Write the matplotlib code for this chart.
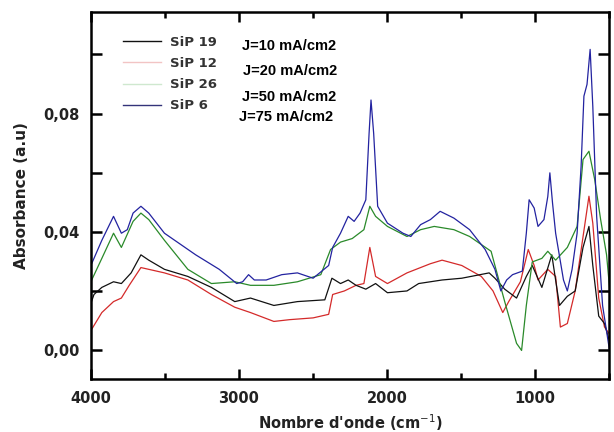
import numpy as np
import matplotlib.pyplot as plt
from matplotlib.lines import Line2D
from matplotlib.ticker import FixedLocator, FuncFormatter

#%% data (wavenumber cm-1, absorbance)
x_sip19 = [4000, 3979, 3926, 3847, 3794, 3728, 3662, 3609, 3503, 3345, 3186, 3028, 2922, 2764,
           2605, 2420, 2372, 2314, 2262, 2209, 2143, 2077, 1997, 1865, 1786, 1628, 1495, 1310,
           1271, 1205, 1125, 1059, 1019, 954, 887, 835, 782, 729, 676, 636, 610, 570, 531, 497]
y_sip19 = [0.0159, 0.0189, 0.0213, 0.0232, 0.0226, 0.0262, 0.0323, 0.0305, 0.0274, 0.0250, 0.0213,
           0.0165, 0.0177, 0.0152, 0.0165, 0.0171, 0.0244, 0.0226, 0.0238, 0.0220, 0.0207, 0.0226,
           0.0195, 0.0201, 0.0226, 0.0238, 0.0244, 0.0262, 0.0244, 0.0207, 0.0177, 0.0250, 0.0287,
           0.0213, 0.0323, 0.0152, 0.0183, 0.0201, 0.0348, 0.0419, 0.0287, 0.0116, 0.0091, 0.0030]

x_sip12 = [4000, 3926, 3847, 3794, 3741, 3662, 3609, 3503, 3345, 3186, 3028, 2922, 2764, 2658,
           2499, 2394, 2367, 2288, 2209, 2156, 2116, 2077, 1997, 1865, 1707, 1628, 1495, 1363,
           1284, 1218, 1178, 1099, 1046, 1006, 980, 914, 861, 829, 782, 729, 676, 636, 610,
           570, 531, 497]
y_sip12 = [0.0067, 0.0128, 0.0165, 0.0177, 0.0220, 0.0280, 0.0274, 0.0262, 0.0238, 0.0189, 0.0146,
           0.0128, 0.0098, 0.0104, 0.0110, 0.0122, 0.0189, 0.0201, 0.0220, 0.0226, 0.0348, 0.0250,
           0.0226, 0.0262, 0.0293, 0.0305, 0.0287, 0.0250, 0.0201, 0.0128, 0.0165, 0.0232, 0.0341,
           0.0287, 0.0238, 0.0274, 0.0250, 0.0079, 0.0091, 0.0201, 0.0384, 0.0521, 0.0430, 0.0177,
           0.0079, 0.0055]

x_sip26 = [4000, 3926, 3847, 3794, 3715, 3662, 3609, 3503, 3345, 3186, 3028, 2922, 2764, 2605,
           2447, 2381, 2314, 2235, 2156, 2116, 2077, 1997, 1865, 1773, 1681, 1548, 1442, 1297,
           1205, 1125, 1091, 1059, 1019, 954, 914, 861, 782, 716, 676, 636, 597, 557, 517, 497]
y_sip26 = [0.0232, 0.0311, 0.0396, 0.0348, 0.0436, 0.0464, 0.0442, 0.0372, 0.0274, 0.0226, 0.0232,
           0.0220, 0.0220, 0.0232, 0.0256, 0.0341, 0.0366, 0.0378, 0.0408, 0.0487, 0.0453, 0.0419,
           0.0385, 0.0408, 0.0419, 0.0408, 0.0385, 0.0335, 0.0165, 0.0024, 0.0000, 0.0152, 0.0299,
           0.0311, 0.0335, 0.0305, 0.0348, 0.0419, 0.0645, 0.0673, 0.0577, 0.0442, 0.0323, 0.0213]

x_sip6 = [4000, 3926, 3847, 3794, 3754, 3715, 3662, 3609, 3503, 3292, 3133, 3015, 2975, 2935,
          2896, 2816, 2711, 2605, 2499, 2394, 2367, 2314, 2262, 2222, 2182, 2143, 2121, 2108,
          2090, 2063, 1997, 1892, 1839, 1773, 1707, 1641, 1548, 1442, 1337, 1271, 1231, 1192,
          1152, 1086, 1059, 1040, 1006, 980, 940, 914, 900, 882, 861, 808, 782, 750, 716, 689,
          670, 649, 628, 610, 584, 544, 497]
y_sip6 = [0.0287, 0.0372, 0.0453, 0.0396, 0.0408, 0.0464, 0.0487, 0.0464, 0.0396, 0.0323, 0.0274,
          0.0226, 0.0232, 0.0256, 0.0238, 0.0238, 0.0256, 0.0262, 0.0244, 0.0287, 0.0348, 0.0396,
          0.0453, 0.0436, 0.0464, 0.0509, 0.0733, 0.0846, 0.0733, 0.0487, 0.0430, 0.0396, 0.0385,
          0.0425, 0.0442, 0.0470, 0.0447, 0.0408, 0.0341, 0.0274, 0.0201, 0.0238, 0.0256, 0.0268,
          0.0396, 0.0509, 0.0481, 0.0419, 0.0442, 0.0520, 0.0600, 0.0498, 0.0396, 0.0238, 0.0201,
          0.0274, 0.0396, 0.0622, 0.0859, 0.0899, 0.1017, 0.0825, 0.0453, 0.0152, 0.0000]

names = ["SiP 19", "SiP 12", "SiP 26", "SiP 6"]
currents = ["J=10 mA/cm2", "J=20 mA/cm2", "J=50 mA/cm2", "J=75 mA/cm2"]
line_cols = ["#111111", "#d42a2a", "#2a8a2a", "#2323a0"]
legend_cols = ["#111111", "#f2c4c4", "#cfe8cf", "#33337a"]

#%%
fig = plt.figure(figsize=(6.14, 4.32), dpi=100)
ax = fig.add_axes([0.148, 0.123, 0.844, 0.849])

ax.plot(x_sip12, y_sip12, color=line_cols[1], lw=0.9)
ax.plot(x_sip19, y_sip19, color=line_cols[0], lw=0.9)
ax.plot(x_sip26, y_sip26, color=line_cols[2], lw=0.9)
ax.plot(x_sip6, y_sip6, color=line_cols[3], lw=0.9)

ax.set_xlim(4000, 500)
ax.set_ylim(-0.0096, 0.1143)

ax.xaxis.set_major_locator(FixedLocator([4000, 3000, 2000, 1000]))
ax.xaxis.set_minor_locator(FixedLocator([3500, 2500, 1500, 500]))
ax.yaxis.set_major_locator(FixedLocator([0.0, 0.02, 0.04, 0.06, 0.08, 0.10]))
ax.yaxis.set_major_formatter(FuncFormatter(
    lambda v, p: ("%.2f" % v).replace(".", ",") if round(v * 100) % 4 == 0 else ""))

ax.tick_params(axis="both", which="major", direction="in", width=1.8, top=True, right=True)
ax.tick_params(axis="x", which="major", length=7, pad=9)
ax.tick_params(axis="x", which="minor", direction="in", length=4, width=1.8, top=True)
ax.tick_params(axis="y", which="major", length=8, pad=8)
for lab in ax.get_xticklabels() + ax.get_yticklabels():
    lab.set_fontweight("bold")
    lab.set_fontsize(10.5)
    lab.set_color("#222222")
for s in ax.spines.values():
    s.set_linewidth(1.8)

ax.set_xlabel("Nombre d'onde (cm$^{-1}$)", fontsize=10.5, fontweight="bold", labelpad=4, color="#222222")
ax.set_ylabel("Absorbance (a.u)", fontsize=11, fontweight="bold", labelpad=10, color="#222222")

handles = [Line2D([], [], color=c, lw=1.0) for c in legend_cols]
leg = ax.legend(handles, names, loc="upper left", bbox_to_anchor=(0.062, 0.935), frameon=False,
                borderpad=0, borderaxespad=0, handlelength=2.9, handletextpad=0.65,
                labelspacing=0.62, prop={"weight": "bold", "size": 9.5})
for t in leg.get_texts():
    t.set_color("#333333")

ys = [0.907, 0.839, 0.768, 0.714]
xs = [0.291, 0.293, 0.291, 0.286]
for i in range(4):
    ax.text(xs[i], ys[i], currents[i], transform=ax.transAxes, fontsize=10.5, fontweight="bold",
            family="Liberation Sans", va="center", ha="left")

fig.savefig("out.png", dpi=100)
